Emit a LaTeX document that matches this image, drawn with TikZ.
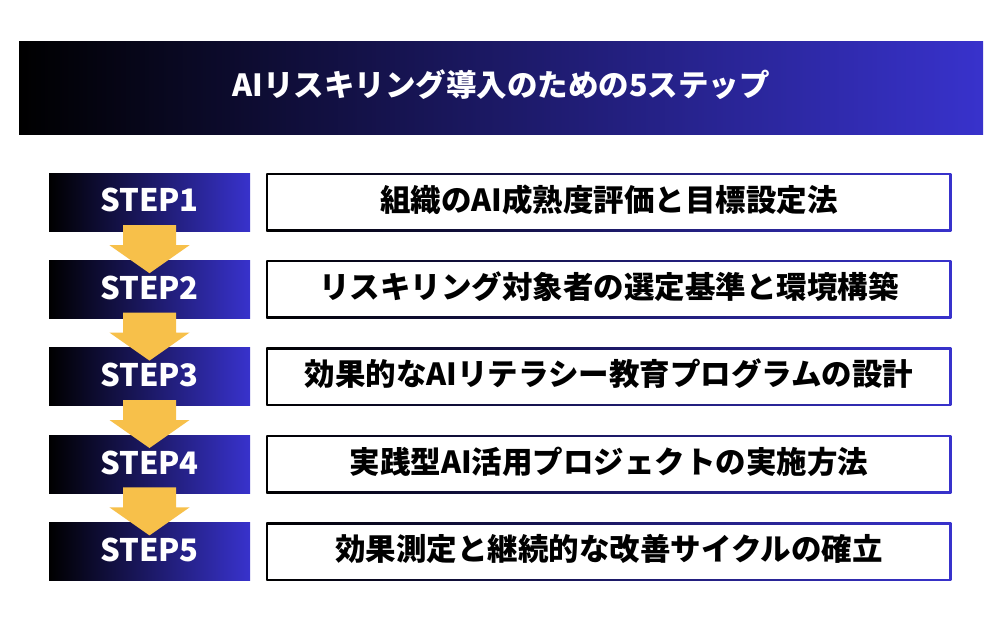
\documentclass[tikz,border=0pt]{standalone}
\usepackage{fontspec}
\setmainfont{Noto Sans CJK JP}
\usetikzlibrary{positioning,calc}
\definecolor{stepblue}{RGB}{56,50,204}
\definecolor{arrowyellow}{RGB}{247,192,74}
\pgfmathsetmacro{\shafthalf}{26.5}
\pgfmathsetmacro{\headhalf}{40}
\pgfmathsetmacro{\framewidth}{2}
\tikzset{
  titlebar/.style={minimum width=964pt, minimum height=93pt, inner sep=0pt,
    left color=black, right color=stepblue, text=white,
    font=\fontsize{30.5}{30.5}\selectfont\bfseries, text height=22pt, text depth=4pt},
  stepbox/.style={minimum width=201pt, minimum height=58pt, inner sep=0pt,
    left color=black, right color=stepblue, text=white,
    font=\fontsize{31}{31}\selectfont\bfseries, text height=21pt, text depth=1.2pt},
  taskbox/.style={minimum width=685pt, minimum height=58pt, inner sep=0pt,
    left color=black, right color=stepblue, text=black,
    font=\fontsize{30.5}{30.5}\selectfont\bfseries, text height=22pt, text depth=4pt,
    path picture={\fill[white]
      ([shift={(\framewidth pt,\framewidth pt)}]path picture bounding box.south west) rectangle
      ([shift={(-\framewidth pt,-\framewidth pt)}]path picture bounding box.north east);}},
  arrowfill/.style={fill=arrowyellow}
}

\begin{document}
\begin{tikzpicture}[x=1pt, y=1pt]
    \useasboundingbox[fill=white] (0,0) rectangle (1000,-625);
    % title
    \node[titlebar] (title) at (501,-87.5) {AIリスキリング導入のための5ステップ};
    % steps
    \node[stepbox] (step1) at (149.5,-202) {STEP1};
    \node[stepbox, below=29pt of step1] (step2) {STEP2};
    \node[stepbox, below=29pt of step2] (step3) {STEP3};
    \node[stepbox, below=29pt of step3] (step4) {STEP4};
    \node[stepbox, below=29pt of step4] (step5) {STEP5};
    % tasks
    \node[taskbox, right=16pt of step1] (task1) {組織のAI成熟度評価と目標設定法};
    \node[taskbox, right=16pt of step2] (task2) {リスキリング対象者の選定基準と環境構築};
    \node[taskbox, right=16pt of step3] (task3) {効果的なAIリテラシー教育プログラムの設計};
    \node[taskbox, right=16pt of step4] (task4) {実践型AI活用プロジェクトの実施方法};
    \node[taskbox, right=16pt of step5] (task5) {効果測定と継続的な改善サイクルの確立};
    % arrows between steps
    \fill[arrowfill] ($(step1.south)+(-\shafthalf,6)$) -- ($(step1.south)+(-\shafthalf,-14)$)
        -- ($(step1.south)+(-\headhalf,-14)$) -- ($(step2.north)+(0,-13)$)
        -- ($(step1.south)+(\headhalf,-14)$) -- ($(step1.south)+(\shafthalf,-14)$)
        -- ($(step1.south)+(\shafthalf,6)$) -- cycle;
    \fill[arrowfill] ($(step2.south)+(-\shafthalf,6)$) -- ($(step2.south)+(-\shafthalf,-14)$)
        -- ($(step2.south)+(-\headhalf,-14)$) -- ($(step3.north)+(0,-13)$)
        -- ($(step2.south)+(\headhalf,-14)$) -- ($(step2.south)+(\shafthalf,-14)$)
        -- ($(step2.south)+(\shafthalf,6)$) -- cycle;
    \fill[arrowfill] ($(step3.south)+(-\shafthalf,6)$) -- ($(step3.south)+(-\shafthalf,-14)$)
        -- ($(step3.south)+(-\headhalf,-14)$) -- ($(step4.north)+(0,-13)$)
        -- ($(step3.south)+(\headhalf,-14)$) -- ($(step3.south)+(\shafthalf,-14)$)
        -- ($(step3.south)+(\shafthalf,6)$) -- cycle;
    \fill[arrowfill] ($(step4.south)+(-\shafthalf,6)$) -- ($(step4.south)+(-\shafthalf,-14)$)
        -- ($(step4.south)+(-\headhalf,-14)$) -- ($(step5.north)+(0,-13)$)
        -- ($(step4.south)+(\headhalf,-14)$) -- ($(step4.south)+(\shafthalf,-14)$)
        -- ($(step4.south)+(\shafthalf,6)$) -- cycle;
\end{tikzpicture}
\end{document}
